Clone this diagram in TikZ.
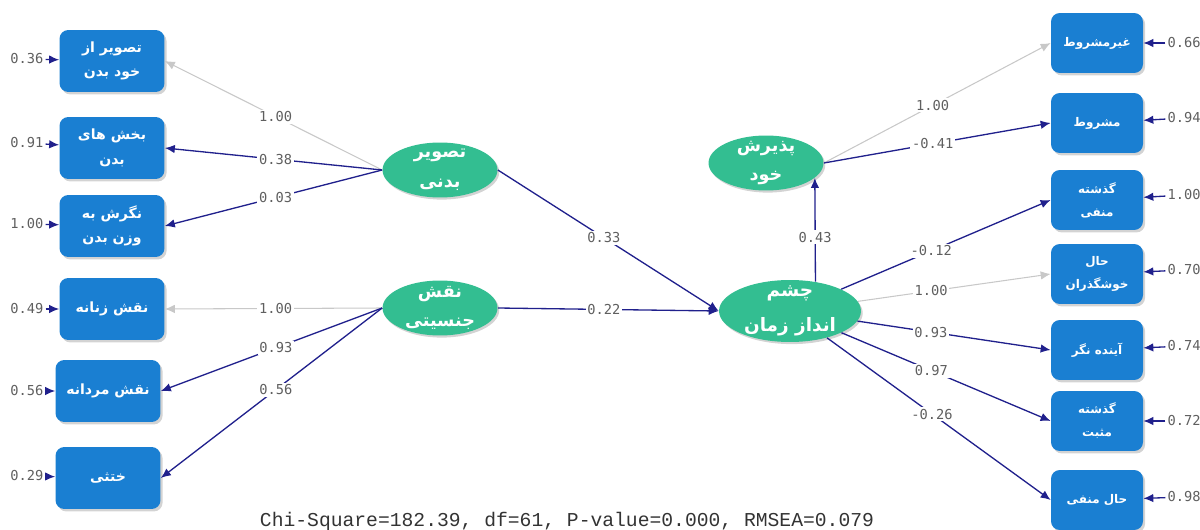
\documentclass[tikz,border=0pt]{standalone}
\usepackage{fontspec}
\usetikzlibrary{shapes.geometric,arrows.meta,shadows}
\TeXXeTstate=1
\newfontfamily\arabicfont[Script=Arabic]{DejaVu Sans}
\newfontfamily\numfont{DejaVu Sans Mono}
\newfontfamily\fitfont{Liberation Mono}
\newcommand{\fa}[1]{\beginR #1\endR}
\definecolor{obsblue}{RGB}{26,127,210}
\definecolor{latgreen}{RGB}{51,190,145}
\definecolor{pathnavy}{RGB}{32,32,140}
\definecolor{pathgray}{RGB}{200,200,200}
\definecolor{labgray}{RGB}{95,95,95}

\begin{document}
\begin{tikzpicture}[x=0.02cm, y=-0.02cm,
  obs/.style={rectangle, rounded corners=5pt, fill=obsblue, minimum width=2.1cm, minimum height=1.24cm, align=center, text=white, inner sep=2pt, font={\arabicfont\bfseries\fontsize{8}{14}\selectfont}, drop shadow={shadow xshift=1.2pt, shadow yshift=-1.4pt, opacity=0.35}},
  obsr/.style={obs, minimum width=1.84cm, minimum height=1.2cm, font={\arabicfont\bfseries\fontsize{6.8}{13}\selectfont}},
  lat/.style={ellipse, fill=latgreen, minimum width=2.3cm, minimum height=1.1cm, align=center, text=white, inner sep=-7pt, font={\arabicfont\bfseries\fontsize{10}{17}\selectfont}, drop shadow={shadow xshift=1pt, shadow yshift=-1.2pt, opacity=0.35}},
  arr/.style={-{Latex[length=2mm,width=1.7mm]}, draw=pathnavy, line width=0.75pt},
  arrg/.style={-{Latex[length=2mm,width=1.7mm]}, draw=pathgray, line width=0.6pt},
  lab/.style={fill=white, inner sep=1pt, text=labgray, font={\numfont\fontsize{7.8}{9}\selectfont}},
  err/.style={inner sep=1pt, text=labgray, font={\numfont\fontsize{7.8}{9}\selectfont}}
]
\useasboundingbox (0,0) rectangle (1200,530);

% observed variables, left
\node[obs] (b1) at (112,61) {\fa{تصویر از}\\\fa{خود بدن}};
\node[obs] (b2) at (112,148) {\fa{بخش های}\\\fa{بدن}};
\node[obs] (b3) at (112,226) {\fa{نگرش به}\\\fa{وزن بدن}};
\node[obs] (b4) at (112,309) {\fa{نقش زنانه}};
\node[obs] (b5) at (108,391) {\fa{نقش مردانه}};
\node[obs] (b6) at (108,478) {\fa{ختثی}};

% latent variables
\node[lat] (tb) at (440,170) {\fa{تصویر}\\\fa{بدنی}};
\node[lat] (ng) at (440,308) {\fa{نقش}\\\fa{جنسیتی}};
\node[lat] (ps) at (766,163) {\fa{پذیرش}\\\fa{خود}};
\node[lat, minimum width=2.84cm, minimum height=1.24cm, font={\arabicfont\bfseries\fontsize{10.5}{20}\selectfont}] (cz) at (790,311) {\fa{چشم}\\\fa{انداز زمان}};

% observed variables, right
\node[obsr] (r1) at (1097,43) {\fa{غیرمشروط}};
\node[obsr] (r2) at (1097,123) {\fa{مشروط}};
\node[obsr] (r3) at (1097,200) {\fa{گذشته}\\\fa{منفی}};
\node[obsr] (r4) at (1097,274) {\fa{حال}\\\fa{خوشگذران}};
\node[obsr] (r5) at (1097,350) {\fa{آینده نگر}};
\node[obsr] (r6) at (1097,421) {\fa{گذشته}\\\fa{مثبت}};
\node[obsr] (r7) at (1097,500) {\fa{حال منفی}};

% error variances
\node[err] (e1) at (27,59) {0.36};
\node[err] (e2) at (27,143) {0.91};
\node[err] (e3) at (27,224) {1.00};
\node[err] (e4) at (27,309) {0.49};
\node[err] (e5) at (27,391) {0.56};
\node[err] (e6) at (27,476) {0.29};
\node[err] (f1) at (1184,43) {0.66};
\node[err] (f2) at (1184,118) {0.94};
\node[err] (f3) at (1184,195) {1.00};
\node[err] (f4) at (1184,270) {0.70};
\node[err] (f5) at (1184,346) {0.74};
\node[err] (f6) at (1184,421) {0.72};
\node[err] (f7) at (1184,497) {0.98};
\draw[arr] (e1) -- (b1);
\draw[arr] (e2) -- (b2);
\draw[arr] (e3) -- (b3);
\draw[arr] (e4) -- (b4);
\draw[arr] (e5) -- (b5);
\draw[arr] (e6) -- (b6);
\draw[arr] (f1) -- (r1);
\draw[arr] (f2) -- (r2);
\draw[arr] (f3) -- (r3);
\draw[arr] (f4) -- (r4);
\draw[arr] (f5) -- (r5);
\draw[arr] (f6) -- (r6);
\draw[arr] (f7) -- (r7);

% loadings, left
\draw[arrg] (tb.west) -- node[lab, pos=0.49]{1.00} (b1.east);
\draw[arr] (tb.west) -- node[lab, pos=0.49]{0.38} (b2.east);
\draw[arr] (tb.west) -- node[lab, pos=0.49]{0.03} (b3.east);
\draw[arrg] (ng.west) -- node[lab, pos=0.49]{1.00} (b4.east);
\draw[arr] (ng.west) -- node[lab, pos=0.48]{0.93} (b5.east);
\draw[arr] (ng.west) -- node[lab, pos=0.48]{0.56} (b6.east);

% structural paths
\draw[arr] (tb.east) -- node[lab, pos=0.48]{0.33} (cz.west);
\draw[arr] (ng.east) -- node[lab, pos=0.48]{0.22} (cz.west);
\draw[arr] (cz.49) -- node[lab, pos=0.43]{0.43} (ps.-17);

% loadings, right
\draw[arrg] (ps.east) -- node[lab, pos=0.48]{1.00} (r1.west);
\draw[arr] (ps.east) -- node[lab, pos=0.48]{-0.41} (r2.west);
\draw[arr] (cz) -- node[lab, pos=0.43]{-0.12} (r3.west);
\draw[arrg] (cz) -- node[lab, pos=0.38]{1.00} (r4.west);
\draw[arr] (cz) -- node[lab, pos=0.38]{0.93} (r5.west);
\draw[arr] (cz) -- node[lab, pos=0.43]{0.97} (r6.west);
\draw[arr] (cz) -- node[lab, pos=0.47]{-0.26} (r7.west);

\node[font={\fitfont\fontsize{11.2}{13}\selectfont}, text=black!80] (fit) at (567,521) {Chi-Square=182.39, df=61, P-value=0.000, RMSEA=0.079};
\end{tikzpicture}
\end{document}
